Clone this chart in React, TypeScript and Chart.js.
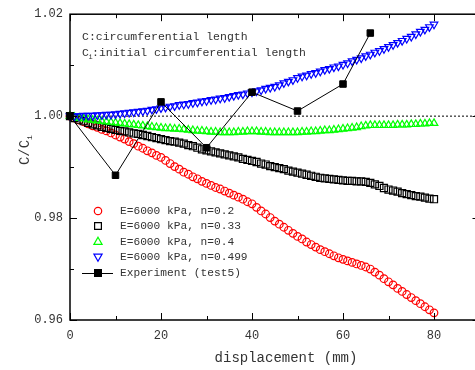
import React, { useEffect, useRef } from 'react';
import { Chart, registerables } from 'chart.js';

Chart.register(...registerables);

const displacement = [
  0, 1, 2, 3, 4, 5, 6, 7, 8, 9, 10, 11, 12, 13, 14, 15, 16, 17, 18, 19, 20,
  21, 22, 23, 24, 25, 26, 27, 28, 29, 30, 31, 32, 33, 34, 35, 36, 37, 38, 39, 40,
  41, 42, 43, 44, 45, 46, 47, 48, 49, 50, 51, 52, 53, 54, 55, 56, 57, 58, 59, 60,
  61, 62, 63, 64, 65, 66, 67, 68, 69, 70, 71, 72, 73, 74, 75, 76, 77, 78, 79, 80,
];

const n02 = [
  1.0000, 0.9996, 0.9992, 0.9989, 0.9985, 0.9981, 0.9978, 0.9974, 0.9971, 0.9967, 0.9963,
  0.9959, 0.9955, 0.9950, 0.9946, 0.9941, 0.9937, 0.9932, 0.9928, 0.9923, 0.9919,
  0.9913, 0.9907, 0.9901, 0.9896, 0.9890, 0.9886, 0.9881, 0.9877, 0.9872, 0.9868,
  0.9864, 0.9860, 0.9857, 0.9853, 0.9849, 0.9845, 0.9841, 0.9837, 0.9832, 0.9828,
  0.9821, 0.9814, 0.9808, 0.9801, 0.9794, 0.9788, 0.9782, 0.9776, 0.9770, 0.9764,
  0.9759, 0.9753, 0.9748, 0.9743, 0.9738, 0.9734, 0.9730, 0.9726, 0.9722, 0.9719,
  0.9716, 0.9713, 0.9710, 0.9707, 0.9704, 0.9700, 0.9694, 0.9688, 0.9681, 0.9675,
  0.9669, 0.9662, 0.9656, 0.9650, 0.9644, 0.9638, 0.9632, 0.9626, 0.9620, 0.9614,
];

const n033 = [
  1.0000, 0.9996, 0.9993, 0.9990, 0.9987, 0.9984, 0.9982, 0.9979, 0.9977, 0.9975, 0.9973,
  0.9971, 0.9970, 0.9968, 0.9966, 0.9965, 0.9963, 0.9961, 0.9959, 0.9957, 0.9955,
  0.9953, 0.9951, 0.9950, 0.9948, 0.9946, 0.9943, 0.9941, 0.9938, 0.9935, 0.9933,
  0.9931, 0.9929, 0.9927, 0.9925, 0.9923, 0.9921, 0.9919, 0.9916, 0.9914, 0.9912,
  0.9910, 0.9907, 0.9905, 0.9902, 0.9900, 0.9898, 0.9896, 0.9893, 0.9891, 0.9889,
  0.9887, 0.9885, 0.9883, 0.9881, 0.9879, 0.9878, 0.9877, 0.9876, 0.9875, 0.9874,
  0.9873, 0.9873, 0.9872, 0.9872, 0.9871, 0.9869, 0.9866, 0.9863, 0.9859, 0.9856,
  0.9854, 0.9852, 0.9849, 0.9847, 0.9845, 0.9843, 0.9842, 0.9840, 0.9838, 0.9837,
];

const n04 = [
  1.0000, 0.9998, 0.9996, 0.9995, 0.9993, 0.9992, 0.9991, 0.9990, 0.9989, 0.9988, 0.9987,
  0.9986, 0.9985, 0.9984, 0.9983, 0.9982, 0.9981, 0.9980, 0.9979, 0.9978, 0.9977,
  0.9976, 0.9976, 0.9975, 0.9975, 0.9974, 0.9973, 0.9972, 0.9971, 0.9971, 0.9970,
  0.9969, 0.9969, 0.9968, 0.9968, 0.9968, 0.9968, 0.9969, 0.9969, 0.9970, 0.9970,
  0.9970, 0.9969, 0.9969, 0.9968, 0.9968, 0.9968, 0.9968, 0.9968, 0.9968, 0.9968,
  0.9969, 0.9969, 0.9970, 0.9970, 0.9971, 0.9972, 0.9972, 0.9973, 0.9974, 0.9975,
  0.9976, 0.9977, 0.9978, 0.9980, 0.9981, 0.9982, 0.9982, 0.9982, 0.9982, 0.9982,
  0.9982, 0.9983, 0.9983, 0.9983, 0.9984, 0.9984, 0.9985, 0.9985, 0.9986, 0.9986,
];

const n0499 = [
  1.0000, 1.0000, 1.0000, 1.0001, 1.0001, 1.0001, 1.0002, 1.0002, 1.0003, 1.0003, 1.0004,
  1.0005, 1.0006, 1.0007, 1.0008, 1.0009, 1.0010, 1.0011, 1.0013, 1.0014, 1.0016,
  1.0017, 1.0019, 1.0020, 1.0022, 1.0023, 1.0024, 1.0026, 1.0027, 1.0029, 1.0030,
  1.0032, 1.0033, 1.0035, 1.0036, 1.0038, 1.0040, 1.0042, 1.0043, 1.0045, 1.0047,
  1.0049, 1.0051, 1.0054, 1.0056, 1.0058, 1.0061, 1.0065, 1.0068, 1.0071, 1.0075,
  1.0078, 1.0080, 1.0083, 1.0085, 1.0088, 1.0091, 1.0093, 1.0096, 1.0098, 1.0101,
  1.0104, 1.0108, 1.0111, 1.0114, 1.0118, 1.0121, 1.0125, 1.0128, 1.0132, 1.0136,
  1.0140, 1.0144, 1.0148, 1.0152, 1.0156, 1.0161, 1.0166, 1.0170, 1.0175, 1.0180,
];

const expX = [0, 10, 20, 30, 40, 50, 60, 66];
const expY = [1.0000, 0.9884, 1.0028, 0.9938, 1.0047, 1.0010, 1.0063, 1.0163];

const refX = [0, 90];
const refY = [1.0, 1.0];

const xTicks = [0, 20, 40, 60, 80];
const xMinorTicks = [10, 30, 50, 70, 90];
const yTicks = [0.96, 0.98, 1.0, 1.02];
const yMinorTicks = [0.97, 0.99, 1.01];

const legendLabels = [
  'E=6000 kPa, n=0.2',
  'E=6000 kPa, n=0.33',
  'E=6000 kPa, n=0.4',
  'E=6000 kPa, n=0.499',
  'Experiment (test5)',
];

const MONO = '"Liberation Mono", "DejaVu Sans Mono", monospace';
const TEXT = '#333333';

function pts(xs: number[], ys: number[]) {
  return xs.map((x, i) => ({ x, y: ys[i] }));
}

function drawMarker(ctx: CanvasRenderingContext2D, kind: string, x: number, y: number, color: string, fill: string | null) {
  ctx.save();
  ctx.strokeStyle = color;
  ctx.lineWidth = 1.2;
  ctx.beginPath();
  if (kind === 'circle') {
    ctx.arc(x, y, 3.7, 0, Math.PI * 2);
  } else if (kind === 'rect') {
    ctx.rect(x - 3.4, y - 3.4, 6.8, 6.8);
  } else if (kind === 'tri') {
    ctx.moveTo(x, y - 4.2);
    ctx.lineTo(x + 4.1, y + 2.9);
    ctx.lineTo(x - 4.1, y + 2.9);
    ctx.closePath();
  } else if (kind === 'tridown') {
    ctx.moveTo(x, y + 4.2);
    ctx.lineTo(x + 4.1, y - 2.9);
    ctx.lineTo(x - 4.1, y - 2.9);
    ctx.closePath();
  }
  if (fill) {
    ctx.fillStyle = fill;
    ctx.fill();
  }
  ctx.stroke();
  ctx.restore();
}

const decorPlugin = {
  id: 'decor',
  afterDraw(chart: any) {
    const ctx: CanvasRenderingContext2D = chart.ctx;
    const { left, right, top, bottom } = chart.chartArea;
    const xs = chart.scales.x;
    const ys = chart.scales.y;
    ctx.save();
    ctx.strokeStyle = '#000';
    ctx.lineWidth = 1.5;
    ctx.strokeRect(left, top, right - left, bottom - top);
    ctx.lineWidth = 1;
    const major = 7;
    const minor = 4;
    ctx.beginPath();
    xTicks.forEach((v) => {
      const p = Math.round(xs.getPixelForValue(v)) + 0.5;
      ctx.moveTo(p, bottom); ctx.lineTo(p, bottom - major);
      ctx.moveTo(p, top); ctx.lineTo(p, top + major);
    });
    xMinorTicks.forEach((v) => {
      const p = Math.round(xs.getPixelForValue(v)) + 0.5;
      ctx.moveTo(p, bottom); ctx.lineTo(p, bottom - minor);
      ctx.moveTo(p, top); ctx.lineTo(p, top + minor);
    });
    yTicks.forEach((v) => {
      const p = Math.round(ys.getPixelForValue(v)) + 0.5;
      ctx.moveTo(left, p); ctx.lineTo(left + major, p);
      ctx.moveTo(right, p); ctx.lineTo(right - major, p);
    });
    yMinorTicks.forEach((v) => {
      const p = Math.round(ys.getPixelForValue(v)) + 0.5;
      ctx.moveTo(left, p); ctx.lineTo(left + minor, p);
      ctx.moveTo(right, p); ctx.lineTo(right - minor, p);
    });
    ctx.stroke();

    ctx.fillStyle = TEXT;
    ctx.textBaseline = 'middle';
    ctx.textAlign = 'left';
    ctx.font = `11.5px ${MONO}`;
    ctx.fillText('C:circumferential length', 82, 37);
    ctx.fillText('C', 82, 53);
    ctx.font = `7px ${MONO}`;
    ctx.fillText('i', 88.5, 57);
    ctx.font = `11.5px ${MONO}`;
    ctx.fillText(':initial circumferential length', 92, 53);

    ctx.textAlign = 'center';
    ctx.font = `14px ${MONO}`;
    ctx.fillText('displacement (mm)', 286, 358);

    ctx.save();
    ctx.translate(25, 150);
    ctx.rotate(-Math.PI / 2);
    ctx.textAlign = 'left';
    ctx.font = `14px ${MONO}`;
    const w = ctx.measureText('C/C').width;
    ctx.fillText('C/C', -(w + 5) / 2, 0);
    ctx.font = `8px ${MONO}`;
    ctx.fillText('i', -(w + 5) / 2 + w, 5);
    ctx.restore();

    const rowsY = [211, 226, 241.5, 257, 273];
    const kinds = [
      ['circle', '#ff0000', null],
      ['rect', '#000000', null],
      ['tri', '#00ff00', null],
      ['tridown', '#0000ff', null],
      ['rect', '#000000', '#000000'],
    ];
    ctx.font = `11.2px ${MONO}`;
    ctx.textAlign = 'left';
    rowsY.forEach((yy, i) => {
      const [kind, col, fill] = kinds[i] as [string, string, string | null];
      if (i === 4) {
        ctx.strokeStyle = '#000';
        ctx.lineWidth = 1;
        ctx.beginPath();
        ctx.moveTo(82, yy + 0.5);
        ctx.lineTo(113, yy + 0.5);
        ctx.stroke();
      }
      drawMarker(ctx, kind, 98, yy, col, fill);
      ctx.fillStyle = TEXT;
      ctx.fillText(legendLabels[i], 120, yy + 0.5);
    });
    ctx.restore();
  },
};

export default function App() {
  const ref = useRef<HTMLCanvasElement | null>(null);
  useEffect(() => {
    if (!ref.current) return;
    const common = { showLine: false, clip: false as any, borderWidth: 1.2, pointBorderWidth: 1.2 };
    const chart = new Chart(ref.current, {
      type: 'scatter',
      data: {
        datasets: [
          {
            label: legendLabels[4],
            data: pts(expX, expY),
            showLine: true,
            borderColor: '#000',
            borderWidth: 1,
            pointStyle: 'rect',
            pointRadius: 4.6,
            pointBackgroundColor: '#000',
            pointBorderColor: '#000',
            clip: false as any,
          },
          {
            ...common,
            label: legendLabels[3],
            data: pts(displacement, n0499),
            pointStyle: 'triangle',
            rotation: 180,
            pointRadius: 4.4,
            pointBorderColor: '#0000ff',
            pointBackgroundColor: 'rgba(255,255,255,0)',
          },
          {
            ...common,
            label: legendLabels[2],
            data: pts(displacement, n04),
            pointStyle: 'triangle',
            pointRadius: 4.4,
            pointBorderColor: '#00ff00',
            pointBackgroundColor: 'rgba(255,255,255,0)',
          },
          {
            ...common,
            label: legendLabels[1],
            data: pts(displacement, n033),
            pointStyle: 'rect',
            pointRadius: 5,
            pointBorderColor: '#000000',
            pointBackgroundColor: 'rgba(255,255,255,0)',
          },
          {
            ...common,
            label: legendLabels[0],
            data: pts(displacement, n02),
            pointStyle: 'circle',
            pointRadius: 3.8,
            pointBorderColor: '#ff0000',
            pointBackgroundColor: 'rgba(255,255,255,0)',
          },
          {
            label: 'ref',
            data: pts(refX, refY),
            showLine: true,
            borderColor: '#000',
            borderWidth: 1,
            borderDash: [2, 2],
            pointRadius: 0,
          },
        ],
      },
      options: {
        responsive: false,
        animation: false,
        layout: { padding: { top: 13, right: 10.5, left: 0, bottom: 0 } },
        plugins: { legend: { display: false }, tooltip: { enabled: false } },
        scales: {
          x: {
            type: 'linear',
            min: 0,
            max: 90,
            grid: { display: false, drawTicks: false },
            border: { display: false },
            ticks: { font: { family: MONO, size: 12 }, color: TEXT, padding: 9, maxRotation: 0 },
            afterBuildTicks: (s: any) => {
              s.ticks = xTicks.map((v) => ({ value: v }));
            },
            afterFit: (s: any) => {
              s.height = 50;
            },
          },
          y: {
            type: 'linear',
            min: 0.96,
            max: 1.02,
            grid: { display: false, drawTicks: false },
            border: { display: false },
            ticks: {
              font: { family: MONO, size: 12 },
              color: TEXT,
              padding: 7,
              callback: (v: any) => Number(v).toFixed(2),
            },
            afterBuildTicks: (s: any) => {
              s.ticks = yTicks.map((v) => ({ value: v }));
            },
            afterFit: (s: any) => {
              s.width = 70;
            },
          },
        },
      },
      plugins: [decorPlugin],
    });
    return () => chart.destroy();
  }, []);
  return (
    <div style={{ position: 'fixed', left: 0, top: 0, width: 475, height: 370, overflow: 'hidden', background: '#fff' }}>
      <canvas ref={ref} width={490} height={370} style={{ display: 'block', width: 490, height: 370 }} />
    </div>
  );
}
